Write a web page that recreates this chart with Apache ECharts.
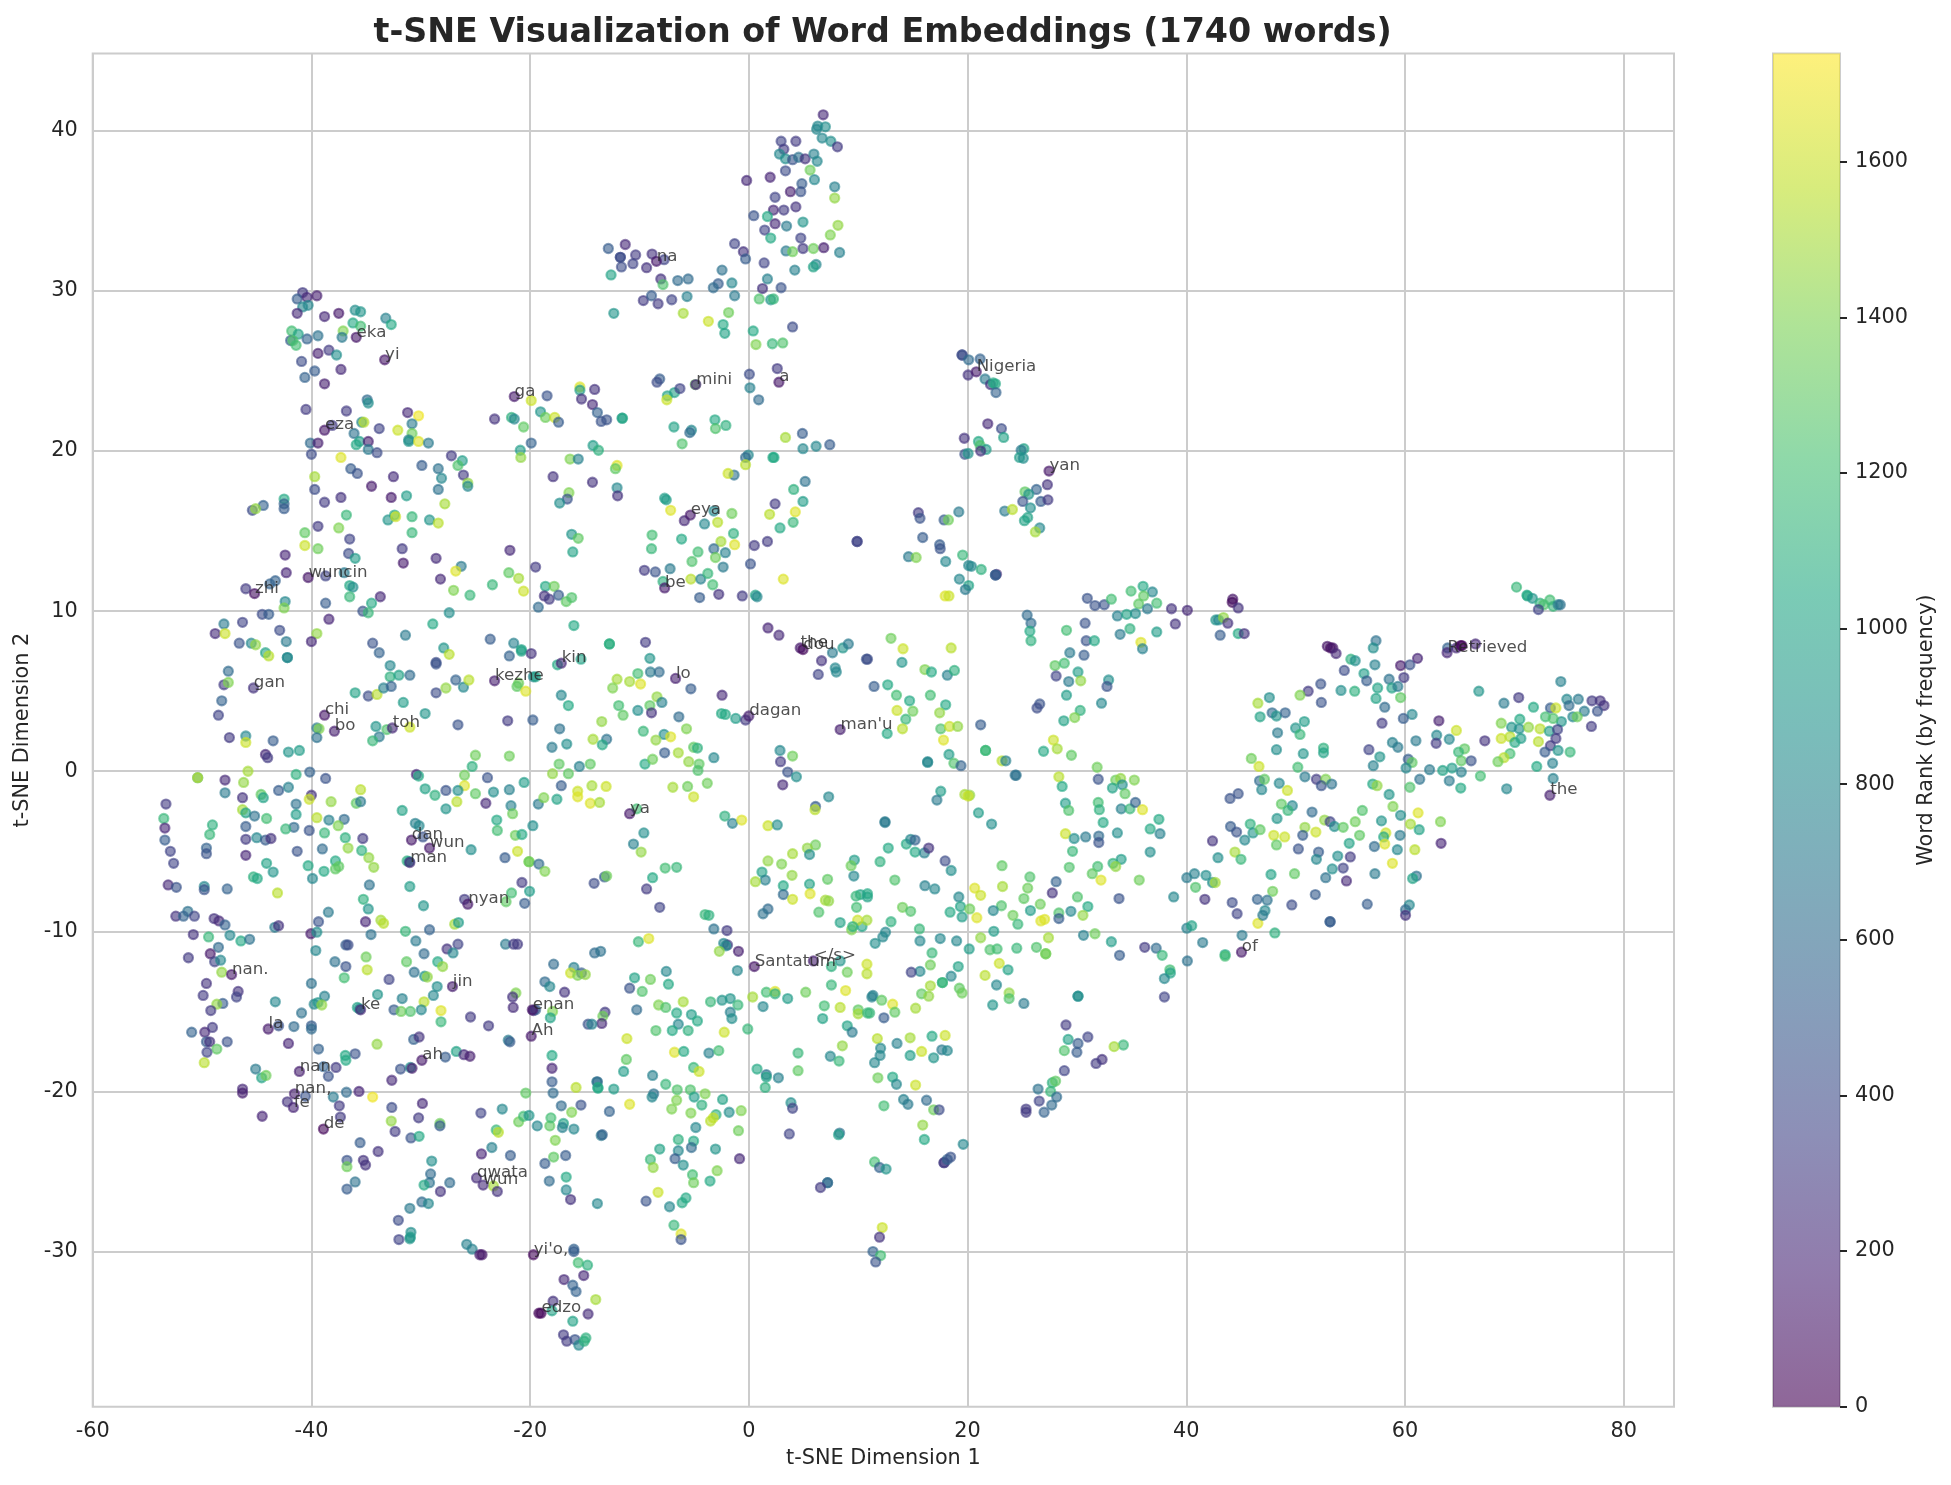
<!DOCTYPE html>
<html>
<head>
<meta charset="utf-8">
<style>html,body{margin:0;padding:0;background:#fff}#chart{width:1951px;height:1485px}</style>
<script src="https://cdn.jsdelivr.net/npm/echarts@6/dist/echarts.min.js"></script>
</head>
<body>
<div id="chart"></div>
<script>
// Word embeddings projected with t-SNE. Each entry is [dimension 1, dimension 2, frequency rank].
const northWestWords = [[-40.8,29.9,300],[-41.3,29.5,500],[-40.4,29.6,200],[-39.5,29.7,150],[-40.8,29,800],[-40.3,29.1,800],[-41.3,28.6,200],[-38.8,28.4,200],[-37.5,28.6,120],[-36,28.8,850],[-35.5,28.7,900],[-33.2,28.3,750],[-32.7,27.9,1050],[-36.2,28,1050],[-35.5,27.8,1200],[-37.1,27.5,1400],[-41.8,27.5,1200],[-41.2,27.3,1000],[-39.4,27.2,650],[-40.4,27,550],[-41.9,26.9,500],[-41.7,26.9,1250],[-41.4,26.6,1200],[-37.2,27.1,700],[-39.4,26.1,150],[-38.4,26.3,300],[-37.7,26,850],[-40.9,25.6,400],[-39.7,25,500],[-37.3,25.1,200],[-40.6,24.6,550],[-38.8,24.2,150],[-34.9,23.2,600],[-34.8,23,850],[-40.5,22.6,300],[-36.8,22.5,300],[-31.2,22.4,200],[-30.2,22.2,1700],[-35.4,21.8,800],[-35.2,21.8,1550],[-33.8,21.4,350],[-38.1,21.6,300],[-36.1,21.1,650],[-30.8,21.7,700],[-32.1,21.3,1600],[-30.8,21.1,1350],[-31.1,20.7,750],[-31.1,20.6,900],[-30.2,20.6,1650],[-29.3,20.5,700],[-35.6,20.6,950],[-35.9,20.4,1050],[-34.8,20.6,150],[-40.1,20.5,600],[-39.4,20.5,150],[-34.8,20.1,700],[-34,19.9,400],[-40,19.8,400],[-37.3,19.6,1650],[-27.2,19.7,300],[-26.2,19.4,950],[-26.6,19.1,1250],[-29.9,19.1,500],[-36.4,18.9,500],[-35.8,18.6,450],[-28.4,18.9,650],[-28.1,18.3,800],[-26.1,18.5,300],[-32.5,18.4,220],[-39.7,18.4,1500],[-25.7,18,1450],[-25.7,17.8,800],[-34.5,17.8,130],[-28.4,17.6,650],[-39.7,17.6,400],[-37.3,17.1,250],[-38.8,16.8,300],[-32.7,17.1,130],[-31.3,17.2,950],[-42.5,17,1050],[-42.5,16.7,550],[-44.4,16.6,550],[-42.5,16.4,500],[-45.4,16.3,400],[-45.1,16.4,1450],[-27.8,16.7,1500],[-36.8,16,1150],[-32.4,16,1050],[-33,15.7,900],[-32.3,15.9,1600],[-30.8,15.9,1150],[-29.2,15.7,900],[-28.4,15.5,1550],[-39.4,15.3,300],[-37.5,15.2,1400],[-40.6,14.9,1300],[-30.8,14.9,1150],[-36.5,14.5,350],[-40.6,14.1,1600],[-39.4,13.9,1350],[-31.7,13.9,300],[-42.4,13.5,180],[-36.6,13.6,400],[-36,13.3,950],[-31.6,13,130],[-28.6,13.3,220],[-26.3,12.8,700],[-26.8,12.5,1650],[-28.2,12,200],[-42.3,12.4,180],[-38.7,12.2,350],[-37,12.4,700],[-36.5,11.6,1050],[-36.2,11.5,850],[-43.3,11.9,550],[-43.8,11.7,550],[-46,11.4,300],[-27,11.3,1400],[-25.5,11,1150],[-33.7,10.9,200],[-36.5,10.9,1150],[-34.5,10.5,1050],[-38.7,10.5,500],[-42.4,10.6,800],[-42.5,10.2,1400],[-35.3,10,450],[-34.8,9.9,1150],[-27.4,9.9,850],[-44.5,9.8,400],[-43.9,9.8,500],[-28.9,9.2,1050],[-48,9.2,700],[-46.3,9.3,350],[-38.4,9.5,180],[-48.8,8.6,220],[-47.9,8.6,1600],[-42.9,8.8,400],[-39.5,8.6,1450],[-40,8.1,200],[-42.3,8.1,700],[-46.6,8,450],[-45.5,8,800],[-45.1,7.9,1450],[-31.4,8.5,700],[-34.4,8,450],[-33.8,7.4,550],[-27.9,7.7,900],[-27.4,7.3,1550],[-28.6,6.8,400],[-44.2,7.4,1000],[-43.9,7.2,1550],[-42.2,7.1,850],[-42.2,7.1,800]];

const westWords = [[-32.8,6.6,800],[-28.6,6.7,450],[-47.6,6.25,600],[-32.8,5.9,1100],[-32,6,1000],[-31,6,600],[-48,5.4,300],[-47.6,5.55,1400],[-48.2,4.4,550],[-36,4.9,1000],[-34.8,4.7,400],[-34,4.8,1550],[-33.4,5.2,750],[-32.7,5.3,550],[-31.6,4.3,950],[-26.8,5.7,550],[-26.1,5.25,800],[-25.6,5.7,1550],[-28.6,4.9,400],[-27.7,5.2,1450],[-48.5,3.5,350],[-29.6,3.6,900],[-39.5,2.7,700],[-39.3,2.65,1400],[-39.5,2.1,650],[-34.1,2.8,900],[-33.1,2.6,1250],[-31,2.75,1600],[-26.6,2.9,450],[-33.8,2.15,700],[-34.4,1.9,1150],[-47.5,2.1,300],[-46,2.2,800],[-46,1.8,1600],[-43.5,1.9,500],[-42.1,1.2,900],[-41.1,1.3,950],[-44.2,1.05,200],[-44,0.85,300],[-25,1,1350],[-25.3,0.3,1100],[-45.8,0,1500],[-50.4,-0.4,950],[-50.4,-0.4,1550],[-47.9,-0.55,200],[-46.2,-0.7,1450],[-41.4,-0.2,1100],[-40.15,-0.05,550],[-38.7,-0.45,450],[-30.4,-0.2,200],[-30.2,-0.3,1050],[-26,-0.25,1350],[-26,-0.9,1650],[-43,-1.2,500],[-42.1,-1,750],[-47.9,-1.35,700],[-35.5,-1.15,1550],[-29.6,-1.1,1000],[-28.7,-1.5,1100],[-27.7,-1.2,450],[-26.6,-1.2,850],[-25,-1.4,1300],[-46.3,-1.65,250],[-44.6,-1.45,1300],[-44.4,-1.65,1000],[-40,-1.5,250],[-40.2,-1.75,1600],[-38.2,-1.9,1450],[-35.9,-2,1300],[-35.5,-1.9,700],[-26.7,-1.9,1550],[-53.3,-2.05,300],[-41.4,-2.05,650],[-27.7,-2.35,900],[-31.7,-2.45,1000],[-46.3,-2.4,1500],[-46,-2.6,1000],[-45.2,-2.8,650],[-41.4,-2.7,950],[-44.1,-2.95,1200],[-39.5,-2.9,1550],[-38.4,-3.05,750],[-37,-3,600],[-53.5,-2.95,1150],[-53.4,-3.55,180],[-49.05,-3.35,1100],[-37.55,-3.4,1400],[-30.5,-3.25,750],[-30.15,-3.4,800],[-46,-3.45,500],[-41.6,-3.5,600],[-42.35,-3.6,1150],[-40.2,-3.7,450],[-38.8,-3.85,1150],[-49.3,-3.95,1150],[-46,-4.25,300],[-45,-4.15,800],[-44.2,-4.3,500],[-43.7,-4.2,250],[-36.9,-4.15,1100],[-35.3,-4.2,300],[-29.8,-4.1,450],[-53.4,-4.3,500],[-49.6,-4.8,550],[-36.65,-4.8,1450],[-35.4,-4.95,1100],[-25.4,-4.9,850],[-52.9,-5,350],[-39,-4.85,600],[-49.6,-5.15,450],[-41.3,-5,450],[-46,-5.25,180],[-34.75,-5.4,1450],[-31.25,-5.6,1100],[-31.05,-5.65,850],[-52.6,-5.75,350],[-44.1,-5.75,1000],[-34.3,-6,1450],[-40.3,-5.9,1050],[-37.8,-5.6,1050],[-37.5,-5.95,1300],[-37.8,-6.1,1300],[-38.85,-6.25,1050],[-43.5,-6.3,900],[-45.3,-6.6,1100],[-44.95,-6.7,1050],[-39.9,-6.7,800],[-34.7,-7.1,650],[-53.1,-7.1,200],[-52.35,-7.25,450],[-49.8,-7.2,800],[-49.8,-7.4,450],[-47.7,-7.35,550],[-31,-7.2,950],[-43.1,-7.6,1550],[-35.25,-8,1100],[-34.8,-8.6,900],[-26,-8,300],[-29.75,-8.4,900],[-38.45,-8.8,700],[-51.3,-8.75,650],[-52.4,-9.05,250],[-51.7,-9.05,550],[-50.7,-9.05,350],[-48.9,-9.2,250],[-48.45,-9.35,200],[-47.9,-9.6,550],[-39.35,-9.4,450],[-35.05,-9.4,180],[-33.65,-9.3,1500],[-33.4,-9.5,1550],[-26.9,-9.55,1500],[-26.55,-9.45,950],[-31.4,-10,1150],[-29.2,-9.9,550],[-43.35,-9.75,700],[-43,-9.65,250],[-40.05,-10.15,130],[-39.5,-10.05,850],[-34.55,-10.2,650],[-50.8,-10.2,250],[-49.4,-10.35,1150],[-47.45,-10.25,800],[-46.45,-10.6,1050],[-45.65,-10.5,650],[-30.45,-10.6,700],[-36.85,-10.85,500],[-36.65,-10.85,400],[-26.6,-10.8,350],[-27.6,-11.1,250],[-27.05,-11.35,800],[-48.5,-11,600],[-39.6,-11.2,800],[-51.25,-11.65,300],[-49.25,-11.4,120],[-48.85,-11.9,350],[-48.3,-11.8,800],[-29.7,-11.4,600],[-35,-11.6,1350],[-37.85,-11.9,650],[-31.3,-11.9,1300],[-28.45,-11.9,1050],[-36.85,-12.2,450],[-28,-12.2,1450],[-34.9,-12.4,1550],[-48.2,-12.55,1450],[-30.6,-12.55,650],[-29.65,-12.8,900],[-29.4,-12.85,1450],[-37,-12.9,1200],[-32.9,-13,350],[-40,-13.25,650],[-49.6,-13.25,250],[-28.5,-13.45,850],[-46.7,-13.75,250],[-46.85,-14.1,350],[-49.9,-14,300],[-48.1,-14.5,500],[-48.65,-14.55,1450],[-38.8,-14.05,750],[-28.85,-14,800],[-33.95,-13.95,900],[-31.7,-14.2,750],[-43.3,-14.4,800],[-39.75,-14.55,800],[-39.4,-14.45,900],[-39.05,-14.6,1450],[-29.7,-14.4,1550],[-35.8,-14.75,1000],[-35.6,-14.85,850],[-32.45,-14.9,500],[-31.8,-15,1350],[-30.95,-15,1250],[-29.95,-14.9,800],[-28.15,-14.95,1650],[-49.2,-14.95,300],[-40.9,-15.1,650],[-28.15,-15.65,1150],[-25.45,-15.35,300],[-49.05,-16,300],[-50.95,-16.3,550],[-49.75,-16.3,200],[-43,-15.9,450],[-41.6,-15.95,600],[-40,-15.9,500],[-40,-16.1,600],[-49.6,-16.9,500],[-49.3,-16.9,250],[-47.7,-16.9,450],[-42.1,-17,180],[-48.65,-17.35,1300],[-30.65,-16.75,550],[-30.15,-16.6,250],[-34,-17.05,1450],[-39.35,-17.35,550],[-49.55,-17.55,350],[-49.8,-18.2,1550],[-36.9,-17.75,1050],[-36,-17.65,450],[-36.85,-18.05,1050],[-26.75,-17.5,1000],[-27.75,-17.85,500],[-26.05,-17.7,200],[-25.5,-17.8,150]];

const southWestWords = [[-45.1,-18.6,700],[-44.55,-19.15,1000],[-44.15,-19,1350],[-38.9,-18.45,550],[-37.75,-18.5,300],[-38.45,-19.05,450],[-31.85,-18.6,450],[-30.95,-18.5,850],[-30.8,-18.55,150],[-32.65,-19.3,200],[-18,-17.75,1050],[-18,-18.55,180],[-18,-19.4,500],[-17.9,-20.1,600],[-15.8,-19.75,1550],[-13.9,-19.4,700],[-13.8,-19.8,1050],[-20.4,-20.1,1300],[-46.3,-19.85,200],[-46.3,-20.1,150],[-40.55,-20.3,450],[-38,-20.35,700],[-36.8,-20.05,600],[-35.65,-20,180],[-34.4,-20.35,1700],[-42.2,-20.65,250],[-37.45,-20.9,300],[-44.5,-21.55,180],[-37.35,-21.6,300],[-32.65,-21,400],[-29.85,-20.75,200],[-30.2,-21.65,300],[-32.7,-21.85,1450],[-28.25,-22,1350],[-28.25,-22.15,500],[-32.35,-22.5,300],[-30.9,-22.9,450],[-30.15,-22.8,1050],[-24.5,-21.35,350],[-22.55,-21.1,800],[-23.1,-22.4,1150],[-22.9,-22.55,1550],[-21.05,-21.9,1350],[-20.6,-21.55,1200],[-20.1,-21.5,900],[-19.35,-22.15,800],[-18.2,-22.15,1300],[-18.1,-21.65,1200],[-17.15,-20.9,600],[-16.2,-21.3,1400],[-15.35,-20.85,450],[-16.95,-22,1000],[-17.05,-22.25,750],[-16,-22.35,800],[-13.5,-22.75,700],[-17.7,-23.05,1400],[-23.5,-23.5,750],[-35.55,-23.2,500],[-33.9,-23.75,250],[-36.75,-24.3,450],[-36.75,-24.7,1350],[-35.25,-24.3,250],[-35.05,-24.6,250],[-29,-24.35,850],[-24.45,-23.9,180],[-21.8,-24,500],[-16.75,-24,500],[-18.65,-24.5,500],[-17.85,-24.1,1300],[-29.1,-25.15,600],[-29.2,-25.7,650],[-29.7,-25.85,1050],[-27.35,-25.7,600],[-36,-25.65,650],[-36.75,-26.1,500],[-28.2,-26.25,250],[-23.35,-25.9,1500],[-23,-26.25,250],[-16.7,-25.35,1050],[-18.25,-25.6,600],[-16.7,-26.15,800],[-16.3,-26.75,250],[-13.85,-27,800],[-29.9,-26.9,600],[-29.3,-27,800],[-31,-27.3,700],[-32.05,-28.05,400],[-30.9,-28.8,850],[-30.95,-29.1,950],[-31,-29.2,900],[-32,-29.25,350],[-25.8,-29.55,750],[-25.3,-29.85,750],[-24.6,-30.2,150],[-24.4,-30.2,100],[-16,-29.85,550],[-16,-30,500],[-15.6,-30.7,1200],[-14.75,-30.85,1100],[-16.9,-31.75,200],[-15.1,-31.5,200],[-16.1,-32.1,550],[-15.8,-32.5,550],[-14,-33,1500],[-17.9,-33.1,250],[-18,-33.7,1000],[-19.2,-33.85,30],[-14.7,-33.9,220],[-16.1,-34.35,1000],[-16.95,-35.2,300],[-16.65,-35.6,300],[-15.9,-35.5,450],[-15.55,-35.85,800],[-14.9,-35.4,1100],[-15.05,-35.6,1100]];

const centerUpperWords = [[-8.15,24.5,500],[-8.4,24.3,400],[-7.45,23.45,1000],[-6.8,23.65,1000],[-6.3,23.9,350],[-7.5,23.2,1600],[-4.9,24.15,1350],[0.05,24.8,400],[2.6,25.15,300],[0.1,23.95,750],[0.9,23.2,600],[-19.9,23.15,1600],[-18.45,23.45,450],[-15.45,24,1650],[-15.45,23.8,950],[-14.1,23.85,250],[-15.3,23.25,250],[-14.3,22.9,200],[-13.85,22.4,550],[-13.5,21.85,450],[-13,21.95,450],[-11.6,22.05,900],[-11.55,22.05,1050],[-23.25,22,250],[-21.7,22.1,1100],[-21.45,22,800],[-20.6,21.5,1300],[-19.05,22.45,900],[-18.6,22.1,1350],[-17.75,22.1,1600],[-17.4,21.8,500],[-6.85,21.5,1000],[-5.25,21.3,800],[-5.4,21.15,600],[-3.1,21.95,1050],[-3.05,21.4,1250],[-2.1,21.6,1100],[-6.1,20.45,1250],[3.35,20.85,1500],[4.9,21.1,500],[7.4,20.4,500],[6.15,20.3,800],[4.95,20.15,800],[-19.9,20.5,550],[-20.9,20.05,950],[-20.85,19.6,1450],[-14.25,20.35,950],[-13.75,20.05,1100],[-16.35,19.5,1400],[-15.6,19.5,750],[-12.05,19.1,1650],[-12.2,18.9,1300],[-0.05,19.75,800],[-0.3,19.6,600],[-0.3,19.15,1550],[2.3,19.6,1050],[2.2,19.6,1050],[-1.35,18.5,650],[-1.9,18.6,1600],[-17.9,18.4,250],[-14.3,18.05,250],[-12.05,17.7,800],[-12,17.2,250],[-16.45,17.4,1400],[-16.6,17,450],[-17.3,16.75,850],[-7.7,17.05,950],[-7.55,16.95,950],[5.15,18.1,650],[4.1,17.6,1100],[4.95,16.85,950],[2.4,16.7,300],[-7.15,16.3,1650],[-5.9,15.65,200],[-3.2,16.25,800],[-4.05,15.45,800],[-1.55,16.1,1350],[-2.85,15.55,1550],[1.9,16.05,1550],[4.25,16.2,1650],[4.05,15.55,1150],[2.85,15.2,1050],[-16.2,14.8,900],[-15.6,14.55,1300],[-16.1,13.7,1000],[-8.85,14.75,1200],[-8.9,13.9,1150],[-6.15,14.5,1050],[-1.4,14.85,1100],[-2.55,14.35,1500],[-1.3,14.15,1650],[-3.2,13.9,600],[-2.15,13.65,750],[-4.65,13.7,1200],[-5.2,13.1,1250],[-3.05,13.35,1350],[0.5,14.1,300],[1.7,14.35,300],[0.15,12.95,450],[9.9,14.35,350],[9.9,14.35,350],[-21.85,13.8,200],[-19.5,12.75,300],[-21.95,12.4,1300],[-21.05,12.05,1500],[-20.6,11.25,1600],[-23.45,11.65,1150],[-18.6,11.55,1050],[-17.8,11.55,1350],[-18.7,10.95,250],[-18.25,10.75,300],[-17.4,11,500],[-16.7,10.6,1300],[-16.2,10.85,1250],[-19.25,10.25,600],[-9.55,12.55,300],[-8.55,12.45,450],[-7.2,12.65,700],[-7.85,11.85,1100],[-5.3,12,1550],[-4.4,12,750],[-3.75,12.35,1150],[-3.3,11.65,1200],[-2.35,12.75,700],[-4.5,10.85,500],[-2.75,11.05,250],[-0.6,10.95,300],[0.6,11,1000],[0.75,10.9,800],[3.15,12,1650],[-23.65,8.25,500],[-21.5,8,750],[-16,9.1,1050],[-20.8,7.6,1000],[-20.8,7.5,1000],[-19.9,7.35,250],[-21.9,7.2,550],[-12.75,7.95,1050],[-12.75,7.95,1100],[-9.45,8.05,300],[1.75,8.95,180],[2.75,8.5,200],[7.65,7.4,700],[8.6,7.7,900],[9.1,7.95,700],[6.65,6.9,250],[10.75,7,450],[6.35,6.05,350],[7.9,6.45,800],[8,6.2,800],[-9.05,7.05,900],[-17.5,6.65,1050],[-15.35,7,1000],[-9,6.2,700],[-8.2,6.2,600],[-10.15,6.1,1200],[-12.05,5.75,1500],[-10.9,5.6,1500],[-9.9,5.45,1650],[-12.45,5.2,1400],[-21.05,5.5,1350],[-21.2,5.3,1300],[-20.4,5,1650],[-19.7,5.9,800],[-19.5,5.9,1000],[-5.3,5.15,500],[-2.45,4.75,200],[-17.15,4.75,800],[-16.5,4.1,1050],[-8.4,4.65,1450],[-7.95,4.3,750],[-9.05,4.1,1300],[-11.9,4.1,1200],[-10.15,3.8,850],[-11.5,3.5,1300],[-8.9,3.65,250],[-6.4,3.4,600],[-2.5,3.6,1050],[-2.15,3.55,1050],[-1.2,3.3,950],[-0.3,3.2,300],[-22.05,3.15,300],[-19.75,3.2,500],[-13.45,3.1,1450],[-17.3,2.65,650],[-5.7,2.65,1400],[-9.65,2.5,1150],[-7.75,2.3,850],[-7.15,2.15,1650],[-8.5,1.95,1450],[-14.25,2,1500],[-13,2,650],[-13.4,1.65,1050],[-16.65,1.7,850],[-18,1.5,700],[2.85,1.3,800],[-7.7,1.15,500],[-6.45,1.15,1500],[-5.05,1.5,1300],[-4.7,1.45,1100]];

const centerLowerWords = [[-21.9,0.95,1350],[-17.35,0.45,1300],[-15.5,0.3,750],[-14.5,0.45,1300],[-17.95,-0.15,1450],[-16.5,-0.15,1300],[-9.5,0.45,1050],[-8.8,0.75,1350],[-5.5,0.6,1450],[-4.55,0.45,1300],[-4.65,0.05,1250],[-3.2,0.85,800],[4,0.95,1350],[2.9,0.6,300],[3.55,-0.05,450],[4.35,-0.35,850],[3.1,-0.85,200],[-23.9,-0.4,450],[-21.9,-1.15,750],[-20.55,-0.7,950],[-17.15,-0.9,500],[-15.65,-1.25,1600],[-14.35,-0.9,1500],[-13.05,-0.95,1600],[-15.65,-1.6,1650],[-14.5,-2,1650],[-13.65,-1.95,1500],[-23.35,-1.3,850],[-24.05,-2,200],[-21.75,-2.15,750],[-21.6,-2.65,1350],[-19.25,-2.05,700],[-18.75,-1.65,1400],[-17.55,-1.75,1000],[-23.05,-3.05,1050],[-23,-3.7,1200],[-21.35,-4,1350],[-20.75,-3.95,1050],[-19.75,-3.4,850],[-22.3,-5.4,500],[-21.15,-5,1600],[-20.1,-5.65,1400],[-20.1,-5.65,1350],[-19.2,-5.8,600],[-18.65,-6.25,1400],[-6.95,-1,1500],[-5.6,-0.95,1350],[-3.8,-0.75,1350],[-5.05,-1.6,1600],[-10.25,-2.35,1200],[-2.2,-2.8,1100],[-1.5,-3.25,750],[-0.65,-3.05,1650],[1.75,-3.4,1600],[2.6,-3.35,850],[6.1,-2.2,500],[6.05,-2.4,1550],[7.3,-1.6,800],[-9.6,-3.85,850],[-10.55,-4.55,750],[-9.85,-5.05,1450],[6.1,-4.6,1350],[5.35,-4.8,1450],[5.55,-5.2,850],[1.75,-5.6,1450],[4,-5.15,1500],[9.65,-5.55,950],[3,-5.8,1400],[-7.65,-6.05,1200],[-6.6,-6,1150],[1.2,-6.3,1000],[3.95,-6.5,1450],[1.5,-6.8,750],[0.6,-6.9,1500],[-8.8,-6.65,1050],[-13.2,-6.6,500],[-13,-6.55,1350],[-14.15,-7,400],[-9.35,-7.35,300],[7.2,-6.75,1300],[5.55,-7.05,1000],[3.15,-7.15,1050],[3.15,-7.7,600],[5.6,-7.65,1650],[4,-8,1600],[7,-8.05,1500],[7.3,-8.1,1450],[10.85,-7.85,1000],[-20.75,-6.95,300],[-20.05,-7.5,950],[-21.7,-7.6,1200],[-22.2,-8.15,1300],[-20.5,-8.25,500],[-8.15,-8.5,350],[9.85,-8.5,1200],[6.4,-8.8,1250],[1.75,-8.6,600],[1.3,-8.9,650],[-4,-8.95,1150],[-3.65,-9,1100],[-3.2,-9.85,650],[-2,-9.95,300],[8.35,-9.45,1000],[9.4,-9.9,1400],[10.35,-9.7,1000],[10.8,-9.3,1500],[-22.25,-10.8,700],[-21.5,-10.8,300],[-21.15,-10.8,300],[-10.1,-10.65,1150],[-9.15,-10.45,1650],[-2.3,-10.75,800],[-1.95,-10.85,300],[-2.1,-10.9,850],[-2.7,-11.25,1450],[-0.95,-11.25,150],[-14.1,-11.35,600],[-13.55,-11.25,650],[8.35,-11.85,900],[7.55,-12.2,1100],[9,-12.55,1350],[10.8,-12.05,1600],[10.8,-12.65,1550],[-1.05,-12.45,800],[-17.85,-12.05,600],[-16,-12.25,750],[-15.3,-12.6,500],[-16.3,-12.6,1600],[-15.65,-12.75,1400],[-14.95,-12.7,1450],[-7.55,-12.5,800],[-18.65,-13.15,600],[-18.2,-13.45,800],[-10.45,-12.9,1000],[-9,-13,1350],[-7.35,-13.3,1050],[7.55,-13.35,1150],[-10.9,-13.55,450],[-9.75,-13.75,1250],[8.85,-13.7,1650],[-21.3,-13.85,1400],[-21.6,-14.1,250],[-21.55,-14.75,220],[-16.85,-13.8,250],[-6,-14.4,1500],[-8.25,-14.6,1400],[-7.6,-14.75,1250],[-3.5,-14.4,1150],[-2.45,-14.3,900],[-1.7,-14.2,900],[-1,-14.6,1150],[0.35,-14.1,1500],[1.6,-13.8,1200],[2.4,-13.75,1650],[2.4,-13.9,1100],[3.55,-14.2,950],[5.2,-13.8,1350],[1.3,-14.7,800],[6.9,-14.65,1200],[8.35,-14.75,1550],[10,-14.9,1300],[10,-15.15,1500],[10.85,-15.1,1150],[11.25,-14.1,750],[-19.7,-14.95,200],[-19.5,-14.9,500],[-17.95,-15,1400],[-18.15,-15.4,1000],[-23.8,-15.9,300],[-13.15,-15.05,300],[-13.35,-15.3,1350],[-13.45,-15.75,200],[-14.7,-15.8,450],[-14.35,-15.8,750],[-10.25,-14.9,600],[-6.6,-15.1,1050],[-5.25,-15.2,950],[-1.7,-15.05,750],[-1.55,-15.45,850],[6.75,-15.45,1000],[-4.7,-15.6,1050],[-6.45,-15.8,800],[-8.5,-16.2,1250],[-7,-16.2,1050],[-5.55,-16.2,1100],[-2.25,-16.3,1600],[-0.1,-16.1,1150],[9,-15.9,1000],[9.45,-16.3,700],[-22,-16.8,700],[-21.85,-16.9,500],[-11.15,-16.7,1600],[8.55,-17.15,1450],[-6.8,-17.55,1650],[-5.95,-17.5,1050],[-3.65,-17.6,750],[-2.75,-17.45,1200],[4.5,-17.6,1150],[7.45,-17.8,800],[8.25,-18.1,1150],[-11.2,-18,1300],[-11.45,-18.75,950],[-5.05,-18.5,1150],[-4.55,-18.75,1600],[-8.8,-19,750],[-7.6,-19.55,1150],[0.75,-18.6,1050],[1.6,-18.95,650],[1.6,-19.1,1000],[2.7,-19.15,750],[4.5,-18.7,1300],[1.5,-19.75,1100],[-13.85,-19.4,600],[-13.8,-19.75,1050],[-12.35,-19.85,950],[-6.55,-19.9,1250],[-5.35,-19.9,1250],[-4,-20.15,1400],[-8.7,-20.15,650],[-8.85,-20.35,800],[-5,-20.35,950],[-6.6,-20.55,1400],[-10.9,-20.8,1650],[-2.4,-20.5,1000],[-4.3,-20.85,1100],[-7.05,-21.1,1400],[-5.3,-21.35,1400],[-0.7,-21.2,1400],[-3,-21.45,1100],[-1.8,-21.3,850],[-3.25,-21.65,1600],[-3.5,-21.85,1550],[3.85,-20.7,850],[4,-21.05,350],[-12.75,-21.25,550],[-4.85,-22.25,800],[-0.95,-22.45,1350],[3.7,-22.65,350],[8.3,-22.6,650],[8.2,-22.7,950],[-13.4,-22.7,550]];

const southCenterWords = [[-6.45,-23,1100],[-5.05,-23.1,1050],[-8.15,-23.6,1000],[-6.45,-23.7,800],[-5.25,-23.5,600],[-3.05,-23.6,900],[-9,-24.25,1150],[-6.75,-24.2,500],[-6,-24.6,850],[-0.85,-24.2,200],[-8.75,-24.75,1450],[-2.9,-24.95,1400],[-5.15,-25.2,1200],[-5.05,-25.7,1350],[-3.55,-25.6,1050],[-8.3,-26.3,1600],[-9.4,-26.85,450],[-7.25,-27.2,800],[-5.75,-26.65,1050],[-6.1,-26.95,1050],[-6.85,-28.35,1150],[-6.2,-28.9,1650],[-6.2,-29.25,450],[16.05,-23,1050],[19.6,-23.3,800],[15.9,-22.1,1450],[12.35,-20.9,1200],[16.9,-21.15,1350],[17.4,-21.15,400],[11.5,-24.4,1200],[11.95,-24.75,550],[12.55,-24.85,900],[17.85,-24.45,300],[17.85,-24.45,300],[18.15,-24.25,550],[18.45,-24.1,450],[7.2,-25.7,600],[7.2,-25.7,600],[6.55,-26,300],[12.2,-28.5,1600],[11.95,-29.1,250],[11.35,-30,550],[12.05,-30.25,1200],[11.6,-30.65,450]];

const northPeakWords = [[6.8,41,200],[6.3,40.3,800],[7,40.25,850],[6.2,40.1,800],[6.7,39.55,800],[7.5,39.35,850],[8.1,39,300],[2.95,39.35,350],[4.3,39.35,300],[3.2,38.85,300],[2.8,38.55,800],[3.35,38.25,850],[4,38.2,450],[4.55,38.35,650],[5.15,38.25,250],[5.95,38.55,750],[6.25,38.1,800],[5.6,37.55,1350],[3.35,37.5,400],[-0.2,36.9,200],[1.95,37.1,180],[6,36.95,800],[4.85,36.7,500],[7.85,36.5,750],[3.8,36.2,150],[4.75,36.2,450],[7.85,35.8,1450],[2.4,35.85,350],[2.25,35.05,200],[3.2,35.05,300],[4.3,35.25,250],[0.45,34.7,450],[1.7,34.65,1050],[4.95,34.3,900],[2.4,34.2,200],[1.45,33.8,350],[3.45,34.05,700],[8.15,34.1,1450],[7.45,33.5,1400],[2,33.3,1050],[4.75,33.3,350],[-1.3,32.95,350],[-11.3,32.9,200],[-12.85,32.65,500],[-11.75,32.1,400],[-11.75,32.1,400],[-10.35,32.25,300],[-8.85,32.3,250],[-7.75,31.95,350],[-10.6,31.7,350],[-11.65,31.5,400],[-9.35,31.45,250],[-0.5,32.45,250],[-0.3,32,500],[3.4,32.5,700],[4,32.45,1350],[4.95,32.65,300],[5.9,32.65,1350],[6.85,32.7,150],[8.3,32.4,750],[1.4,31.75,350],[6.15,31.65,800],[5.9,31.5,1000],[4.2,31.3,750],[-12.6,31,1000],[-8.05,30.75,250],[-7.85,30.4,1250],[-6.5,30.65,600],[-5.55,30.75,600],[-2.45,31.3,650],[1.7,30.75,750],[-2.8,30.45,500],[-3.25,30.2,600],[-1.55,30.5,800],[1.25,30.15,250],[2.95,30.2,450],[-9.65,29.4,300],[-8.9,29.7,500],[-8.3,29.2,300],[-7.05,29.45,350],[-5.65,29.65,750],[-1.3,29.7,700],[0.95,29.5,1250],[2,29.45,900],[2.25,29.5,1150],[-12.35,28.6,900],[-6,28.6,1500],[-3.7,28.1,1600],[-1.85,28.65,1350],[-2.35,27.9,1050],[-2.2,27.35,1000],[0.4,27.5,1050],[4,27.75,400],[0.65,26.65,1400],[2.15,26.7,1150],[3.1,26.75,1250]];

const eastUpperWords = [[19.5,26,400],[19.5,26,400],[20.1,25.7,600],[21.15,25.75,550],[20.05,24.75,250],[21.6,24.5,700],[22.1,24.15,250],[22.35,24.25,1050],[22.55,24.2,1050],[22.6,23.65,550],[21.85,21.7,200],[23.1,21.4,400],[23.3,20.85,1000],[19.7,20.8,250],[21,20.6,1050],[21.15,20.35,1250],[21.7,20.1,950],[21.2,20,250],[19.75,19.8,450],[20.05,19.85,900],[25.15,20.15,1000],[24.9,20.05,700],[24.75,19.6,950],[25.1,19.55,850],[27.3,17.9,250],[26.3,17.6,550],[25.25,17.45,1300],[25.6,17.3,900],[25.05,16.85,450],[26.7,16.85,500],[27.35,16.95,300],[25.75,16.45,850],[23.4,16.25,700],[24.1,16.35,1550],[15.5,16.15,300],[15.65,15.8,450],[17.85,15.7,500],[18.25,15.7,1350],[19.2,16.2,700],[25.5,15.85,1000],[25.2,15.65,1000],[26.6,15.2,800],[26.2,14.95,1500],[15.9,14.6,500],[17.45,14.15,500],[17.5,13.9,450],[14.6,13.4,700],[15.3,13.35,1400],[18,13.1,800],[19.55,13.5,1150],[20.1,12.85,800],[20.35,12.8,800],[21.25,12.6,1100],[22.65,12.3,250],[22.55,12.25,500],[22.55,12.25,500],[19.25,12,800],[20.1,11.6,1000],[19.8,11.35,700],[17.95,10.95,1650],[18.3,10.95,1600],[30.95,10.8,450],[31.65,10.35,450],[32.5,10.4,450],[33.15,10.75,1200],[34.95,11.25,1200],[36.05,11.55,1050],[36.9,11.2,800],[36.1,10.95,1300],[35.65,10.45,1300],[37.3,10.5,1200],[36.45,10.15,700],[38.65,10.15,250],[40.1,10.05,200],[44.25,10.75,100],[44.2,10.55,50],[44.75,10.2,250],[42.7,9.45,900],[42.95,9.45,800],[43.4,9.6,1450],[43.8,9.25,250],[33.7,9.7,750],[34.55,9.8,1000],[35.35,9.85,850],[25.45,9.75,600],[25.8,9.25,600],[25.7,8.75,1050],[25.8,8.15,1100],[29.05,8.8,1200],[30.75,9.25,450],[30.85,8.15,450],[31.6,8.15,1050],[33.95,8.55,700],[34.85,8.9,1100],[37.3,8.7,950],[39,9.2,250],[35.85,8.05,1650],[36,7.65,750],[43.1,8.5,500],[44.75,8.6,1050],[45.3,8.6,250],[13,8.3,1350],[14.1,7.65,1600],[18.5,7.7,1550],[10.85,7,400],[14,6.8,900],[29.35,7.4,700],[30.65,7.25,500],[28,6.6,1300],[28.85,6.75,1200],[30.1,6.2,950],[16.1,6.35,1400],[16.7,6.2,1050],[18.15,6,750],[18.8,6.3,1100],[28.1,5.95,350],[29.25,5.6,700],[30.35,5.65,1450],[32.9,5.7,850],[32.75,5.3,450],[11.45,5.3,500],[12.7,5.4,1050],[13.5,4.75,1200],[14.7,4.4,1050],[16.6,4.75,1200],[18,4.15,1050],[29.05,4.75,950],[32.25,4.25,800],[26.6,4.2,450],[26.35,3.95,400],[13.55,3.8,1600],[15,3.75,1350],[17.45,3.65,1450],[30.3,3.8,1100],[29.8,3.35,1400],[28.8,3.15,1000],[46.55,4.25,1500],[46.75,3.4,1000],[14.35,3.25,1150],[12.65,2.35,1050],[14.05,2.65,1550],[17.55,2.65,1250],[18.35,2.8,1600],[19.1,2.8,1450],[21.2,2.9,500],[17.8,1.95,1650],[27.85,1.95,1600]];

const eastLowerWords = [[18.3,1.05,950],[21.65,1.3,1050],[21.65,1.3,1200],[18.75,0.5,1250],[19.4,0.35,550],[26.95,1.25,1050],[28.2,1.4,1500],[29.5,1,1300],[23.15,0.65,1550],[23.5,0.65,750],[16.35,0.55,800],[16.35,0.6,800],[31.85,0.25,1350],[24.35,-0.25,650],[24.45,-0.25,650],[28.35,-0.35,1550],[31.95,-0.5,450],[33.55,-0.55,1350],[34,-0.45,1450],[35.25,-0.55,1400],[34.15,-0.85,850],[33.25,-1.05,1000],[34.4,-1.4,1300],[28.65,-0.95,1050],[17.55,-1.25,950],[17.2,-1.8,700],[19.75,-1.45,1500],[20.2,-1.5,1450],[20.05,-1.55,1600],[21,-2.6,950],[22.2,-3.3,850],[28.95,-2,950],[29.25,-2.45,1250],[31.95,-1.95,1200],[32.05,-2.4,1100],[34.05,-2.35,750],[34.85,-2.35,1150],[35.35,-1.95,550],[36,-2.4,1650],[32.4,-3.2,1050],[37.5,-3,1050],[36.7,-3.6,1050],[37.6,-3.9,750],[12.45,-3.15,700],[12.45,-3.2,700],[28.95,-3.9,1600],[29.75,-4.2,850],[30.8,-4.1,700],[32,-4.05,600],[32,-4.45,450],[33.7,-3.85,850],[44,-1.7,450],[44.75,-1.4,450],[45.85,-3.3,1100],[44.05,-3.45,500],[44.6,-3.8,450],[46.1,-3.85,900],[45.35,-4.3,800],[42.4,-4.35,250],[46.75,-3.65,1300],[12.75,-4.8,1050],[14.4,-4.55,1050],[14.8,-4.25,800],[15.2,-4.3,550],[15.2,-5.05,1050],[16.05,-5.1,750],[16.45,-4.8,250],[17.95,-5.6,400],[18.5,-6.2,850],[29.6,-5,1150],[36.7,-5.05,850],[44.45,-5.05,1500],[42.9,-5.4,850],[45,-5.5,1150],[12,-5.65,1100],[9.35,-5.9,1350],[9.6,-6.55,800],[23.15,-5.9,1300],[29.3,-6,1250],[31.9,-5.95,1200],[33.3,-5.75,1100],[34.05,-5.5,950],[33.55,-5.95,1450],[31.4,-6.4,1300],[13.35,-6.8,1250],[25.7,-6.6,1250],[28.1,-6.9,550],[32.2,-6.8,1650],[35.7,-6.8,1350],[40.05,-6.65,700],[40.75,-6.4,750],[41.8,-6.5,850],[42.4,-6.95,850],[42.65,-6.95,1500],[40.85,-7.25,1250],[16.1,-7.15,750],[17,-7.35,800],[20.65,-7.3,1650],[21.2,-7.75,1600],[23.2,-7.2,1500],[25.5,-7.3,1350],[27.75,-7.6,250],[10.85,-7.65,1050],[10.2,-7.7,1000],[9.8,-7.8,1150],[19.2,-7.85,800],[25.15,-7.95,1300],[30.05,-7.85,1250],[33.85,-7.95,450],[38.85,-7.85,800],[41.7,-8,250],[44.2,-8.2,400],[46.5,-8,550],[14.05,-8.5,1350],[19.35,-8.45,1000],[20.2,-8.6,1350],[23.1,-8.4,1250],[22.35,-8.7,800],[26.65,-8.3,1350],[25.75,-8.7,950],[31,-8.45,1050],[29.45,-8.75,800],[14.8,-8.75,1250],[18.4,-8.8,1050],[28.35,-8.85,1250],[24.15,-9,1350],[30.55,-9,1450],[44.65,-8.9,350],[19.5,-9.1,950],[20.85,-9.15,1650],[27.05,-9.25,1650],[26.7,-9.35,1650],[28.35,-9.2,500],[9.95,-9.3,1600],[13,-9.4,1100],[24.6,-9.55,1150],[15.6,-9.85,1150],[9.5,-9.7,1100],[46.55,-9.5,1650],[40.05,-9.8,750],[40.5,-9.65,1000],[12.5,-10.05,800],[12.25,-10.35,800],[11.55,-10.75,850],[15.65,-10.6,800],[17.5,-10.45,800],[19,-10.6,800],[22.4,-10,950],[30.6,-10.25,750],[31.65,-10.15,1350],[45.1,-10.25,700],[21.2,-10.4,1450],[27.4,-10.4,1500],[33.15,-10.65,950],[41.5,-10.7,700],[36.2,-11,300],[37.25,-11.05,600],[20.15,-11.1,950],[22.05,-11.15,1250],[22.7,-11.1,1200],[24.5,-11.05,1150],[26.3,-11,1250],[27.15,-11.4,1400],[27.15,-11.4,1350],[33.9,-11.5,500],[37.8,-11.5,1150],[43.55,-11.45,1050],[43.55,-11.55,1200],[16.75,-11.35,1150],[40.1,-11.85,650],[22.9,-12,1600],[23.7,-12.4,1000],[19.15,-12.2,1000],[16.6,-12.1,1350],[15.65,-12.5,800],[14.85,-12.55,350],[38.5,-12.4,1200],[38.55,-12.6,1000],[38,-12.95,800],[18.5,-12.8,800],[21.6,-12.75,1550],[17.7,-13.2,1100],[17.7,-13.2,1150],[16.6,-13.4,1500],[19.25,-13.55,1300],[22.65,-13.35,800],[15.8,-13.9,1300],[16.45,-14.05,1450],[19.5,-13.85,1350],[23.8,-13.85,1450],[23.8,-14.2,1250],[11.35,-14,750],[12.15,-14.3,1300],[30.1,-14.05,850],[30.1,-14.05,850],[38,-14.1,350],[13.15,-14.55,1650],[22.3,-14.6,900],[25.15,-14.5,700],[15.25,-14.8,1500],[11.05,-15.1,1150],[13.35,-15.05,1300],[12.35,-15.4,500],[29,-15.85,300],[31,-16.6,350],[29.2,-16.75,1000],[30.1,-17,500],[34.25,-17.1,1150],[33.4,-17.2,1500],[28.85,-17.45,1250],[30,-17.55,500],[32.3,-18,250],[31.75,-18.25,300],[28.85,-18.7,350],[11.75,-16.7,1550],[13.55,-17,750],[14.75,-16.65,1500],[16.75,-16.55,1050],[17.95,-16.5,1600],[12.05,-17.3,800],[12,-17.75,800],[11.5,-18.2,800],[14.75,-17.75,950],[15.8,-17.5,1600],[16.9,-17.9,900],[17.65,-17.4,700],[18.15,-17.45,800],[11.8,-19.15,1350],[13.15,-19.1,1050],[13.5,-19.55,800],[15.25,-19.6,1600],[27.75,-19.45,1100],[28.05,-19.35,1300],[26.45,-19.85,650],[27.6,-20,1150],[28.15,-20.35,600],[14.15,-20.5,750],[14.55,-20.8,700],[16.25,-20.55,600],[26.55,-20.6,350],[27.7,-20.85,600],[25.35,-21.1,300],[25.35,-21.3,300],[27,-21.3,550]];

const farEastWords = [[70.2,11.5,1150],[71.15,11,1050],[71.2,10.95,1050],[71.65,10.8,900],[72.35,10.5,1100],[72.7,10.4,1250],[73.25,10.7,1200],[73.55,10.3,1150],[72.2,10.1,350],[74,10.4,750],[74.2,10.4,650],[57.35,8.15,650],[57.1,7.7,850],[52.9,7.8,100],[53.2,7.7,60],[53.4,7.7,100],[53.7,7.35,200],[55.05,7,1100],[55.45,6.9,850],[57.25,6.65,750],[59.6,6.6,130],[60.45,6.65,450],[61.15,7.05,180],[54.45,6.3,400],[56.25,6.1,950],[56.5,5.65,500],[58.55,5.75,650],[59.9,5.85,300],[57.5,5.2,1000],[58.8,5.2,1000],[59.35,5.3,700],[57.35,4.55,1000],[59.6,4.6,1300],[52.3,5.45,450],[51.15,5,300],[50.4,4.75,1400],[54.15,5.05,850],[55.4,5,1100],[52.35,4.3,450],[47.6,4.6,850],[58.15,4,600],[47.85,3.65,600],[48.25,3.45,900],[49.05,3.65,550],[60.65,3.55,800],[59.85,3.3,500],[57.9,3,300],[63.1,3.15,150],[66.75,5,900],[69.05,4.25,700],[70.4,4.6,300],[71.75,4,1050],[73.3,3.95,500],[73.8,3.95,1600],[74.25,5.6,750],[74.8,4.5,800],[75,4.1,600],[75.85,4.5,700],[76.4,3.75,700],[77.1,4.4,300],[77.85,4.4,250],[78.2,4.1,250],[77.6,3.75,450],[75.35,3.4,800],[75.75,3.4,1350],[74.3,3.1,900],[72.85,3.4,1200],[73.55,3.3,1250],[70.5,3.25,1050],[68.8,3,1400],[69.75,2.75,900],[70.45,2.65,850],[71.3,2.75,1450],[72.35,2.65,1550],[73.2,2.5,950],[73.95,2.6,350],[77.05,2.8,300],[50,2.7,900],[50.8,3.1,950],[50.4,2.3,1150],[48.35,2.4,700],[64.7,2.55,1600],[62.9,2.25,800],[64.05,2,800],[61,1.9,700],[58.85,1.8,750],[59.35,1.5,700],[62.85,1.75,300],[67.3,1.9,250],[68.8,2.05,1600],[69.6,2.15,1550],[72.2,1.85,1550],[70.6,2.05,950],[70.05,1.8,1050],[73.8,2.05,300],[73.3,1.6,300],[72.8,1.2,500],[74,1.3,900],[75.1,1.2,1150],[48.25,1.35,850],[52.55,1.45,1100],[52.55,1.15,1000],[50.7,1.1,900],[56.7,1.35,350],[57.7,0.9,900],[65.45,1.4,1300],[64.9,1.2,1150],[65.15,0.65,1300],[66.05,0.65,450],[60.3,0.75,500],[60.65,0.55,1300],[57.1,0.35,750],[60.1,0.2,800],[62.25,0.1,700],[63.45,0.05,1000],[64.3,0.2,950],[65.15,-0.05,750],[69.6,1.1,1200],[69.05,0.85,1550],[68.5,0.6,1350],[72.05,0.3,1050],[73.5,0.5,750],[50.2,0.25,1200],[46.65,0.3,1600],[45.95,0.8,1350],[73.55,-0.45,750],[69.3,-1.1,800],[66.9,-0.3,1200],[61.35,-0.5,650],[64.05,-0.6,700],[65.1,-1.05,1050],[60.45,-1,1250],[57.05,-0.8,1050],[57.45,-0.9,1450],[50.85,-0.35,700],[51.9,-0.5,300],[52.75,-0.5,1400],[52.35,-0.9,450],[53.3,-0.8,650],[46.7,-0.6,600],[47.15,-0.5,1300],[48.5,-0.75,800],[46.9,-1.15,800],[49.25,-1.2,1600],[58.55,-1.45,900],[48.7,-2.05,1300],[49.7,-2.15,800],[49.3,-2.45,1150],[58.9,-2.2,1400],[56.1,-2.45,1250],[51.5,-2.55,600],[61.2,-2.6,1650],[48.3,-2.95,900],[52.65,-3.05,1450],[53.15,-3.15,350],[53.55,-3.45,850],[54.35,-3.5,1300],[55.45,-3.15,1350],[57.85,-3.1,900],[59.6,-2.75,850],[60.5,-3.3,1500],[63.25,-3.15,1400],[61.3,-3.65,1000],[50.85,-3.5,1450],[48,-4,1600],[49,-4.1,1600],[51.85,-3.8,1600],[50.65,-4,500],[55.85,-4,1300],[58.25,-3.85,1600],[58.05,-4.1,1050],[59.55,-4,700],[48.25,-4.6,1300],[58.15,-4.55,1650],[54.9,-4.5,1000],[57.2,-4.7,600],[50.25,-4.85,450],[52.1,-5.05,500],[59.3,-4.9,800],[60.9,-4.9,1550],[63.3,-4.5,180],[53.85,-5.3,850],[55,-5.35,300],[51.9,-5.5,800],[58.85,-5.75,1650],[53.35,-6.1,850],[54.35,-6.05,350],[52.75,-6.65,650],[47.75,-6.45,1000],[49.9,-6.4,1300],[57.25,-6.4,700],[54.65,-6.85,200],[61.05,-6.55,650],[60.7,-6.7,1000],[47.9,-7.5,1350],[51.8,-7.7,500],[47.4,-8.05,650],[49.65,-8.35,400],[56.55,-8.3,500],[60.4,-8.35,800],[60.05,-8.65,600],[60.05,-9,250],[47.2,-8.7,800],[47,-9,700],[53.15,-9.4,500],[53.15,-9.4,500],[48.1,-10.1,1100],[63.9,7.7,550],[64.7,7.7,200],[65.1,7.85,30],[65.2,7.85,30],[66.45,7.95,200]];

// Words that carry a text annotation beside their point.
const annotatedWords = ["eka","yi","eza","wuncin","zhi","gan","chi","bo","toh","dan","wun","man","nyan","nan.","jin","ke","la","ah","nan","nan,","fe","de","qwata","wun","yi'o,","edzo","mini","a","ga","eya","be","the","dou","kin","lo","kezhe","dagan","man'u","ya","Santatum","</s>","enan","Ah","na","Nigeria","yan","of","Retrieved","the"];
const annotatedX = [-35.9,-33.3,-38.8,-40.3,-45.2,-45.3,-38.8,-37.9,-32.6,-30.85,-29.2,-31,-25.7,-47.3,-27.1,-35.5,-43.95,-29.9,-41.1,-41.55,-41.65,-38.9,-24.9,-24.3,-19.7,-19,-4.85,2.75,-21.45,-5.35,-7.7,4.7,4.95,-17.15,-6.7,-23.25,0,8.35,-10.9,0.5,5.9,-19.8,-19.9,-8.45,20.8,27.45,45.05,63.85,73.25];
const annotatedY = [27.1,25.7,21.3,12.1,11.1,5.2,3.5,2.5,2.7,-4.3,-4.8,-5.7,-8.3,-12.7,-13.45,-14.9,-16.1,-18.05,-18.75,-20.15,-21,-22.35,-25.4,-25.85,-30.2,-33.85,24.15,24.3,23.4,16,11.45,7.7,7.6,6.75,5.8,5.65,3.45,2.6,-2.65,-12.2,-11.85,-14.9,-16.55,31.85,24.95,18.75,-11.3,7.4,-1.5];
const annotatedRank = [100,100,100,100,80,250,100,150,200,120,120,200,120,120,150,200,130,120,150,150,180,30,220,220,30,30,180,100,130,120,130,130,30,200,150,150,150,150,120,100,150,100,120,120,130,100,120,180,150];

const xTicks = [-60,-40,-20,0,20,40,60,80];
const yTicks = [-30,-20,-10,0,10,20,30,40];
const rankTicks = [0,200,400,600,800,1000,1200,1400,1600];
const maxRank = 1739;

const viridisStops = ['#440154','#482475','#414487','#355f8d','#2a788e','#21918c','#22a884','#44bf70','#7ad151','#bddf26','#fde725'];

function hexToRgb(h){return [1,3,5].map(i=>parseInt(h.slice(i,i+2),16));}
function viridis(rank){
  const t=Math.max(0,Math.min(1,rank/maxRank))*(viridisStops.length-1);
  const i=Math.min(Math.floor(t),viridisStops.length-2),f=t-i;
  const a=hexToRgb(viridisStops[i]),b=hexToRgb(viridisStops[i+1]);
  const c=a.map((v,k)=>Math.round(v+(b[k]-v)*f));
  return 'rgb('+c.join(',')+')';
}

const FONT='"DejaVu Sans"';
const INK='#262626';
const SPINE='#cccccc';
const AXIS_SIZE=20.8;

function pointItem(p){
  const col=viridis(p[2]);
  return {value:p,itemStyle:{color:col,borderColor:col}};
}

const plainPoints=[].concat(northWestWords,westWords,southWestWords,centerUpperWords,centerLowerWords,southCenterWords,northPeakWords,eastUpperWords,eastLowerWords,farEastWords).map(pointItem);

// Annotation text starts at the point and sits on its baseline.
const labelledPoints=annotatedWords.map((w,i)=>{
  const item=pointItem([annotatedX[i],annotatedY[i],annotatedRank[i]]);
  item.label={show:true,formatter:()=>w,position:[6,10],align:'left',verticalAlign:'bottom',opacity:1,
    fontFamily:FONT,fontSize:16.67,color:'rgba(38,38,38,0.8)',padding:0,lineHeight:19};
  return item;
});

const barStops=viridisStops.map((c,i)=>({offset:i/(viridisStops.length-1),color:c}));

const chart=echarts.init(document.getElementById('chart'),null,{renderer:'canvas'});
chart.setOption({
  animation:false,
  backgroundColor:'#ffffff',
  textStyle:{fontFamily:FONT},
  title:{text:'t-SNE Visualization of Word Embeddings (1740 words)',left:877.6,top:12,textAlign:'center',
    textStyle:{fontFamily:FONT,fontWeight:'bold',fontSize:33.3,color:INK}},
  grid:[
    {left:92.7,top:53.5,width:1581.3,height:1353.2,show:true,borderColor:SPINE,borderWidth:2,backgroundColor:'#fff',containLabel:false},
    {left:1773,top:53.5,width:67,height:1353.2,show:true,borderColor:SPINE,borderWidth:2,containLabel:false}
  ],
  xAxis:[
    {gridIndex:0,type:'value',min:-60,max:84.6,name:'t-SNE Dimension 1',nameLocation:'middle',nameGap:41,
      nameTextStyle:{fontFamily:FONT,fontSize:AXIS_SIZE,color:INK},
      axisLine:{show:false},axisTick:{show:false,customValues:xTicks},
      axisLabel:{customValues:xTicks,fontFamily:FONT,fontSize:AXIS_SIZE,color:INK,margin:14},
      splitLine:{show:true,lineStyle:{color:SPINE,width:2}}},
    {gridIndex:1,type:'category',data:['rank'],show:false}
  ],
  yAxis:[
    {gridIndex:0,type:'value',min:-39.69,max:44.83,name:'t-SNE Dimension 2',nameLocation:'middle',nameRotate:90,nameGap:60,
      nameTextStyle:{fontFamily:FONT,fontSize:AXIS_SIZE,color:INK},
      axisLine:{show:false},axisTick:{show:false,customValues:yTicks},
      axisLabel:{customValues:yTicks,fontFamily:FONT,fontSize:AXIS_SIZE,color:INK,margin:15,padding:[2,0,0,0]},
      splitLine:{show:true,lineStyle:{color:SPINE,width:2}}},
    {gridIndex:1,type:'value',position:'right',min:0,max:maxRank,name:'Word Rank (by frequency)',nameLocation:'middle',nameRotate:90,nameGap:76,
      nameTextStyle:{fontFamily:FONT,fontSize:AXIS_SIZE,color:INK},
      axisLine:{show:false},
      axisTick:{show:true,length:7,customValues:rankTicks,lineStyle:{color:INK,width:2}},
      axisLabel:{customValues:rankTicks,formatter:v=>String(v),fontFamily:FONT,fontSize:AXIS_SIZE,color:INK,margin:15,padding:[2,0,0,0]},
      splitLine:{show:false}}
  ],
  series:[
    {type:'scatter',xAxisIndex:0,yAxisIndex:0,symbol:'circle',symbolSize:9.2,
      itemStyle:{opacity:0.6,borderWidth:2.1},emphasis:{disabled:true},silent:true,clip:false,
      encode:{x:0,y:1},data:plainPoints},
    {type:'scatter',xAxisIndex:0,yAxisIndex:0,symbol:'circle',symbolSize:9.2,z:3,
      itemStyle:{opacity:0.6,borderWidth:2.1},emphasis:{disabled:true},silent:true,clip:false,
      encode:{x:0,y:1},data:labelledPoints,labelLayout:{hideOverlap:false}},
    {type:'bar',xAxisIndex:1,yAxisIndex:1,barWidth:'100%',silent:true,
      data:[maxRank],
      itemStyle:{opacity:0.6,color:new echarts.graphic.LinearGradient(0,1,0,0,barStops)}}
  ]
});
</script>
</body>
</html>
